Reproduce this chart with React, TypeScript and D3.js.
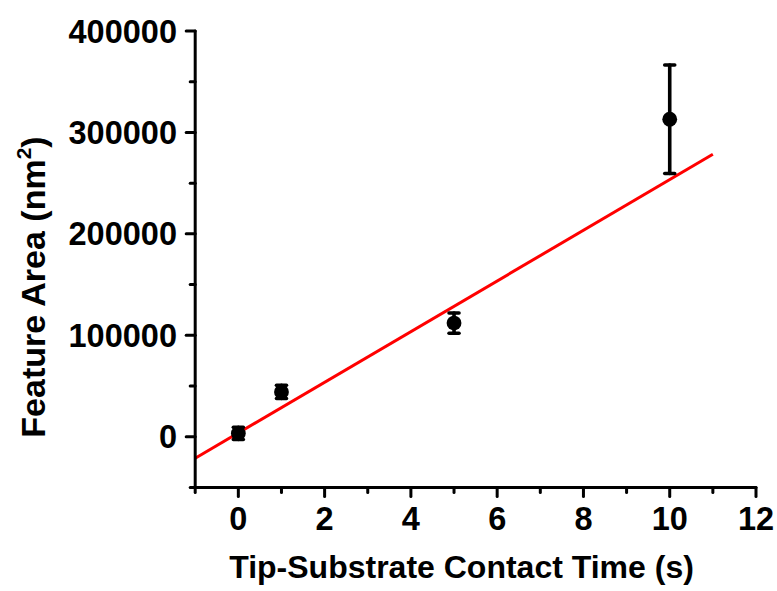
import React from "react";
import * as d3 from "d3";

const times = [0, 1, 5, 10];
const areas = [3200, 44100, 112000, 313000];
const errors = [6000, 6500, 10000, 53500];
const fitSlope = 24980;
const fitIntercept = 3700;
const fitRange = [-1, 11];
const xTicks = [0, 2, 4, 6, 8, 10, 12];
const xMinor = [-1, 1, 3, 5, 7, 9, 11];
const yTicks = [0, 100000, 200000, 300000, 400000];
const yMinor = [-50000, 50000, 150000, 250000, 350000];

const W = 777;
const H = 591;
const FONT = "'Liberation Sans', Arial, sans-serif";

export default function App() {
  const x = d3.scaleLinear().domain([-1, 12]).range([195.2, 756]);
  const y = d3.scaleLinear().domain([-50000, 400000]).range([487.4, 31]);
  const line = d3
    .line<number>()
    .x((t) => x(t))
    .y((t) => y(fitSlope * t + fitIntercept));
  const fs = 32.5;
  return (
    <svg
      width={W}
      height={H}
      style={{ position: "absolute", left: 0, top: 0, background: "#fff" }}
      fontFamily={FONT}
      fontWeight="bold"
    >
      <rect width={W} height={H} fill="#fff" />
      <path d={line(fitRange) || ""} stroke="#ff0000" strokeWidth={3} fill="none" />
      {times.map((t, i) => {
        const cx = x(t);
        const top = y(areas[i] + errors[i]);
        const bot = y(areas[i] - errors[i]);
        return (
          <g key={i} stroke="#000" strokeWidth={3.6} strokeLinecap="round">
            <line x1={cx} x2={cx} y1={top} y2={bot} />
            <line x1={cx - 5} x2={cx + 5} y1={top} y2={top} />
            <line x1={cx - 5} x2={cx + 5} y1={bot} y2={bot} />
          </g>
        );
      })}
      {times.map((t, i) => (
        <circle key={"c" + i} cx={x(t)} cy={y(areas[i])} r={7.4} fill="#000" />
      ))}
      <g stroke="#000" strokeWidth={3} strokeLinecap="round">
        <line x1={x(-1)} x2={x(12)} y1={y(-50000)} y2={y(-50000)} />
        <line x1={x(-1)} x2={x(-1)} y1={y(-50000)} y2={y(400000)} />
        {xTicks.map((t) => (
          <line key={"xt" + t} x1={x(t)} x2={x(t)} y1={y(-50000)} y2={y(-50000) + 9} />
        ))}
        {xMinor.map((t) => (
          <line key={"xm" + t} x1={x(t)} x2={x(t)} y1={y(-50000)} y2={y(-50000) + 5} />
        ))}
        {yTicks.map((v) => (
          <line key={"yt" + v} x1={x(-1) - 9} x2={x(-1)} y1={y(v)} y2={y(v)} />
        ))}
        {yMinor.map((v) => (
          <line key={"ym" + v} x1={x(-1) - 5} x2={x(-1)} y1={y(v)} y2={y(v)} />
        ))}
      </g>
      {xTicks.map((t) => (
        <text key={"xl" + t} x={x(t)} y={530} fontSize={fs} textAnchor="middle" fill="#000">
          {t}
        </text>
      ))}
      {yTicks.map((v) => (
        <text
          key={"yl" + v}
          x={177}
          y={y(v) + 11.5}
          fontSize={fs}
          textAnchor="end"
          fill="#000"
        >
          {v}
        </text>
      ))}
      <text x={461.5} y={578} fontSize={32} textAnchor="middle" fill="#000">
        Tip-Substrate Contact Time (s)
      </text>
      <text
        transform="translate(45,287) rotate(-90)"
        fontSize={34}
        textAnchor="middle"
        fill="#000"
      >
        Feature Area (nm
        <tspan fontSize={21} dy={-14}>
          2
        </tspan>
        <tspan dy={14}>)</tspan>
      </text>
    </svg>
  );
}
